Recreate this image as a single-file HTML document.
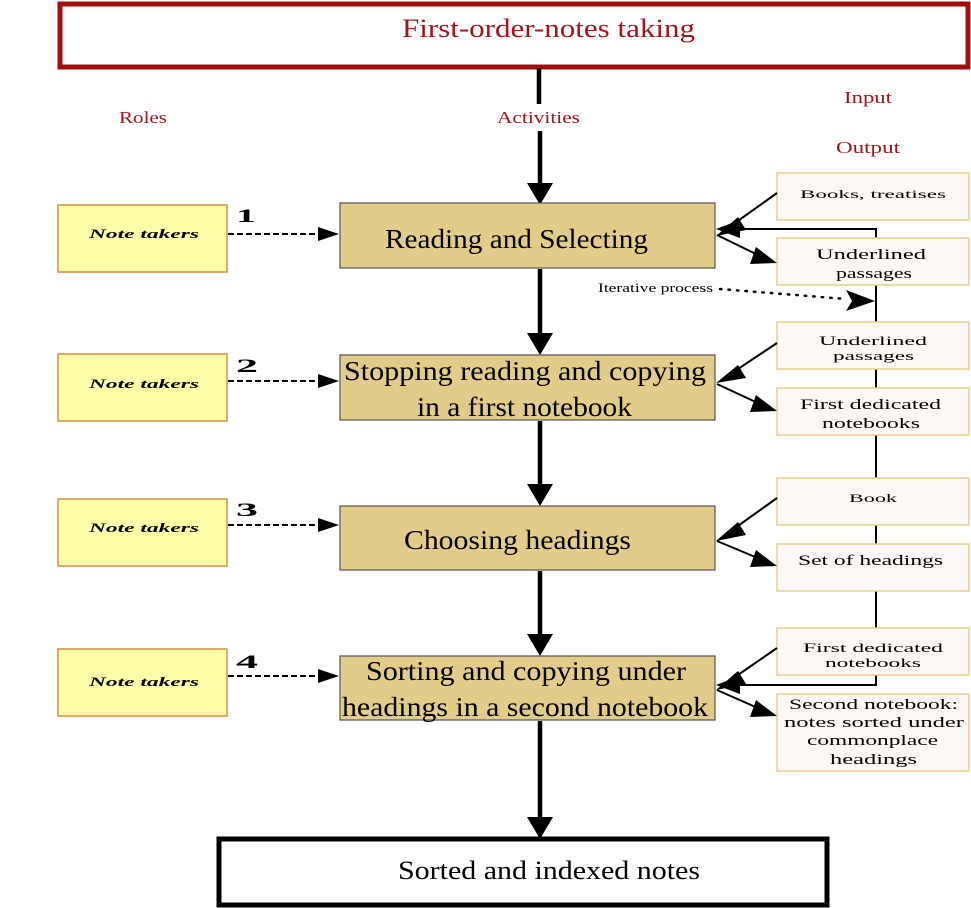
<!DOCTYPE html>
<html><head><meta charset="utf-8"><style>
html,body{margin:0;padding:0;background:#fff;}
svg{display:block;}
text{font-family:"Liberation Serif",serif;}
</style></head><body>
<svg width="971" height="908" viewBox="0 0 971 908" xmlns="http://www.w3.org/2000/svg">
<!-- title -->
<rect x="60" y="4" width="908" height="63" fill="#fff" stroke="#a00f0f" stroke-width="5"/>
<text x="402" y="37" font-size="26" fill="#a0141c" textLength="293" lengthAdjust="spacingAndGlyphs">First-order-notes taking</text>
<text x="119" y="123" font-size="17" fill="#a0141c" textLength="48" lengthAdjust="spacingAndGlyphs">Roles</text>
<text x="497" y="123" font-size="17" fill="#a0141c" textLength="83" lengthAdjust="spacingAndGlyphs">Activities</text>
<text x="844" y="103" font-size="17" fill="#a0141c" textLength="48" lengthAdjust="spacingAndGlyphs">Input</text>
<text x="836" y="153" font-size="17" fill="#a0141c" textLength="64" lengthAdjust="spacingAndGlyphs">Output</text>

<!-- central arrows -->
<g stroke="#000" stroke-width="4.5" fill="none">
<line x1="539" y1="68" x2="539" y2="104"/>
<line x1="540" y1="131" x2="540" y2="184"/>
<line x1="540" y1="269" x2="540" y2="334"/>
<line x1="540" y1="421" x2="540" y2="485"/>
<line x1="540" y1="571" x2="540" y2="635"/>
<line x1="540" y1="721" x2="540" y2="818"/>
</g>
<g fill="#000">
<path d="M527,183 L553,183 L540,205 Z"/>
<path d="M527,333 L553,333 L540,355 Z"/>
<path d="M527,484 L553,484 L540,506 Z"/>
<path d="M527,634 L553,634 L540,656 Z"/>
<path d="M527,817 L553,817 L540,839 Z"/>
</g>

<!-- activity boxes -->
<g fill="#e2cc8a" stroke="#555" stroke-width="1.2">
<rect x="340" y="203" width="375" height="65"/>
<rect x="340" y="355" width="375" height="65"/>
<rect x="340" y="506" width="375" height="64"/>
<rect x="340" y="656" width="375" height="64"/>
</g>
<g font-size="27" fill="#000">
<text x="385" y="248" textLength="263" lengthAdjust="spacingAndGlyphs">Reading and Selecting</text>
<text x="344" y="380" textLength="362" lengthAdjust="spacingAndGlyphs">Stopping reading and copying</text>
<text x="417" y="416" textLength="215" lengthAdjust="spacingAndGlyphs">in a first notebook</text>
<text x="404" y="549" textLength="227" lengthAdjust="spacingAndGlyphs">Choosing headings</text>
<text x="366" y="680" textLength="320" lengthAdjust="spacingAndGlyphs">Sorting and copying under</text>
<text x="342" y="716" textLength="366" lengthAdjust="spacingAndGlyphs">headings in a second notebook</text>
</g>

<!-- roles -->
<g fill="#ffffaa" stroke="#d4913a" stroke-width="1.5">
<rect x="58" y="205" width="169" height="67"/>
<rect x="58" y="354" width="169" height="67"/>
<rect x="58" y="499" width="169" height="67"/>
<rect x="58" y="649" width="169" height="67"/>
</g>
<g font-size="13" font-style="italic" font-weight="bold" fill="#000">
<text x="89" y="238" textLength="110" lengthAdjust="spacingAndGlyphs">Note takers</text>
<text x="89" y="388" textLength="110" lengthAdjust="spacingAndGlyphs">Note takers</text>
<text x="89" y="532" textLength="110" lengthAdjust="spacingAndGlyphs">Note takers</text>
<text x="89" y="686" textLength="110" lengthAdjust="spacingAndGlyphs">Note takers</text>
</g>
<g font-size="19" font-weight="bold" fill="#000">
<text x="236" y="222" textLength="20" lengthAdjust="spacingAndGlyphs">1</text>
<text x="236" y="372" textLength="22" lengthAdjust="spacingAndGlyphs">2</text>
<text x="236" y="516" textLength="22" lengthAdjust="spacingAndGlyphs">3</text>
<text x="236" y="668" textLength="22" lengthAdjust="spacingAndGlyphs">4</text>
</g>
<g stroke="#000" stroke-width="2" stroke-dasharray="6,3" fill="none">
<line x1="228" y1="234" x2="322" y2="234"/>
<line x1="228" y1="381" x2="322" y2="381"/>
<line x1="228" y1="525" x2="322" y2="525"/>
<line x1="228" y1="676" x2="322" y2="676"/>
</g>
<g fill="#000">
<path d="M318,227 L339,234 L318,241 Z"/>
<path d="M318,374 L339,381 L318,388 Z"/>
<path d="M318,518 L339,525 L318,532 Z"/>
<path d="M318,669 L339,676 L318,683 Z"/>
</g>

<!-- feedback loop line -->
<polyline points="876,685 876,229 735,229" fill="none" stroke="#000" stroke-width="2"/>
<polyline points="876,660 876,685 735,685" fill="none" stroke="#000" stroke-width="2"/>
<path d="M740,220 L716,229 L740,238 Z" fill="#000"/>
<path d="M740,676 L716,685 L740,694 Z" fill="#000"/>

<!-- right boxes -->
<g fill="#fdf9f7" stroke="#e6d08a" stroke-width="1.5">
<rect x="777" y="173" width="192" height="47"/>
<rect x="777" y="238" width="192" height="47"/>
<rect x="777" y="322" width="192" height="47"/>
<rect x="777" y="388" width="192" height="47"/>
<rect x="777" y="478" width="192" height="47"/>
<rect x="777" y="544" width="192" height="47"/>
<rect x="777" y="628" width="192" height="47"/>
<rect x="777" y="694" width="192" height="77"/>
</g>
<g fill="#000">
<text x="800" y="198" font-size="12" textLength="146" lengthAdjust="spacingAndGlyphs">Books, treatises</text>
<text x="816" y="259" font-size="15" textLength="110" lengthAdjust="spacingAndGlyphs">Underlined</text>
<text x="836" y="278" font-size="15" textLength="76" lengthAdjust="spacingAndGlyphs">passages</text>
<text x="819" y="345" font-size="13" textLength="108" lengthAdjust="spacingAndGlyphs">Underlined</text>
<text x="833" y="360" font-size="13" textLength="81" lengthAdjust="spacingAndGlyphs">passages</text>
<text x="800" y="409" font-size="15" textLength="141" lengthAdjust="spacingAndGlyphs">First dedicated</text>
<text x="822" y="428" font-size="15" textLength="98" lengthAdjust="spacingAndGlyphs">notebooks</text>
<text x="849" y="502" font-size="12" textLength="48" lengthAdjust="spacingAndGlyphs">Book</text>
<text x="798" y="565" font-size="15" textLength="145" lengthAdjust="spacingAndGlyphs">Set of headings</text>
<text x="803" y="652" font-size="13" textLength="140" lengthAdjust="spacingAndGlyphs">First dedicated</text>
<text x="825" y="667" font-size="13" textLength="96" lengthAdjust="spacingAndGlyphs">notebooks</text>
<text x="789" y="709" font-size="15" textLength="169" lengthAdjust="spacingAndGlyphs">Second notebook:</text>
<text x="784" y="727" font-size="15" textLength="180" lengthAdjust="spacingAndGlyphs">notes sorted under</text>
<text x="807" y="745" font-size="15" textLength="131" lengthAdjust="spacingAndGlyphs">commonplace</text>
<text x="830" y="764" font-size="15" textLength="87" lengthAdjust="spacingAndGlyphs">headings</text>
</g>

<!-- input/output diagonal arrows -->
<g stroke="#000" stroke-width="2" fill="none">
<line x1="777" y1="193" x2="735" y2="223"/>
<line x1="717" y1="235" x2="760" y2="256"/>
<line x1="777" y1="343" x2="735" y2="371"/>
<line x1="717" y1="384" x2="760" y2="404"/>
<line x1="777" y1="498" x2="735" y2="528"/>
<line x1="717" y1="541" x2="760" y2="559"/>
<line x1="777" y1="648" x2="735" y2="677"/>
<line x1="717" y1="690" x2="760" y2="709"/>
</g>
<g fill="#000">
<path d="M738,217 L716,236 L746,230 Z"/>
<path d="M756,247 L777,263 L750,264 Z"/>
<path d="M738,365 L716,383 L746,378 Z"/>
<path d="M756,395 L777,411 L750,412 Z"/>
<path d="M738,522 L716,541 L746,535 Z"/>
<path d="M756,550 L777,566 L750,567 Z"/>
<path d="M738,671 L716,690 L746,684 Z"/>
<path d="M756,700 L777,716 L750,717 Z"/>
</g>

<!-- iterative -->
<text x="598" y="292" font-size="13" fill="#000" textLength="115" lengthAdjust="spacingAndGlyphs">Iterative process</text>
<line x1="720" y1="289" x2="846" y2="299" stroke="#000" stroke-width="2.5" stroke-dasharray="1.5,7" stroke-linecap="round"/>
<path d="M846,290 L875,301 L846,311 L852,301 Z" fill="#000"/>

<!-- bottom -->
<rect x="219" y="839" width="608" height="66" fill="#fff" stroke="#000" stroke-width="5"/>
<text x="398" y="879" font-size="26" fill="#000" textLength="302" lengthAdjust="spacingAndGlyphs">Sorted and indexed notes</text>
</svg>
</body></html>
